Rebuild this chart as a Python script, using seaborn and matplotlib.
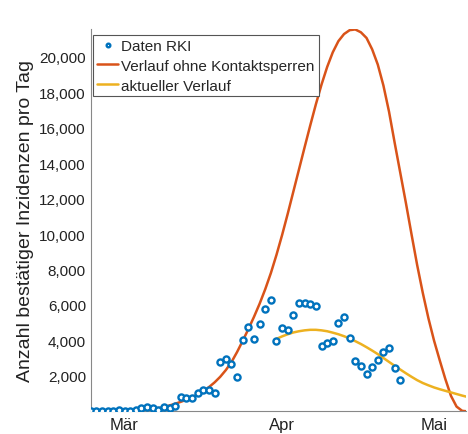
import numpy as np
import pandas as pd
import matplotlib
import matplotlib.pyplot as plt
import seaborn as sns
from matplotlib.ticker import FuncFormatter

matplotlib.use("Agg")

sns.set_style("white")
plt.rcParams["font.family"] = ["Liberation Sans", "DejaVu Sans"]

# Tagesindex (0 = erster Datenpunkt) und Beschriftung der Monate
monat_pos = [6, 34, 61]
monat_labels = ["Mär", "Apr", "Mai"]

# Daten RKI: bestätigte Neuinfektionen pro Tag
rki_werte = [10, 10, 10, 10, 10, 85, 10, 20, 60, 180,
             270, 180, 100, 270, 180, 290, 820, 740, 740, 1060,
             1190, 1180, 1050, 2790, 2960, 2700, 1950, 4050, 4770, 4110,
             4950, 5760, 6270, 3960, 4730, 4610, 5440, 6140, 6140, 6080,
             5930, 3680, 3830, 3990, 4970, 5310, 4130, 2830, 2550, 2080,
             2490, 2870, 3370, 3600, 2470, 1790]
rki_tage = list(range(len(rki_werte)))

# Verlauf ohne Kontaktsperren
ohne_tage = list(range(0, 68))
ohne_werte = [0, 0, 0, 0, 0, 0, 5, 10, 25, 50,
              85, 125, 180, 250, 335, 430, 540, 660, 800, 960,
              1150, 1370, 1635, 1950, 2330, 2780, 3350, 3980, 4640, 5330,
              6070, 6890, 7800, 8830, 9950, 11150, 12400, 13650, 14900, 16130,
              17320, 18430, 19420, 20250, 20880, 21280, 21500, 21540, 21380, 21060,
              20420, 19560, 18380, 16900, 15150, 13450, 11750, 9980, 8250, 6680,
              5250, 3990, 2890, 1830, 880, 270, 30, 0]

# aktueller Verlauf
akt_tage = list(range(33, 68))
akt_werte = [4090, 4230, 4350, 4450, 4520, 4570, 4600, 4600, 4570, 4520,
             4440, 4350, 4240, 4110, 3960, 3800, 3620, 3430, 3230, 3010,
             2790, 2570, 2360, 2150, 1950, 1760, 1600, 1470, 1350, 1250,
             1160, 1070, 980, 890, 810]

df_rki = pd.DataFrame({"tag": rki_tage, "wert": rki_werte})
df_ohne = pd.DataFrame({"tag": ohne_tage, "wert": ohne_werte})
df_akt = pd.DataFrame({"tag": akt_tage, "wert": akt_werte})

blau = "#0072BD"
orange = "#D95319"
gelb = "#EDB120"

fig = plt.figure(figsize=(4.68, 4.35), dpi=100)
ax = fig.add_axes([0.194, 0.052, 0.802, 0.878])

sns.lineplot(data=df_ohne, x="tag", y="wert", color=orange, linewidth=1.8,
             label="Verlauf ohne Kontaktsperren", ax=ax, zorder=2)
sns.lineplot(data=df_akt, x="tag", y="wert", color=gelb, linewidth=1.8,
             label="aktueller Verlauf", ax=ax, zorder=2)
ax.plot(df_rki["tag"], df_rki["wert"], linestyle="none", marker="o",
        markersize=4.4, markerfacecolor="white", markeredgecolor=blau,
        markeredgewidth=1.7, label="Daten RKI", zorder=3)

ax.set_xlim(0, 66.7)
ax.set_ylim(0, max(ohne_werte))
ax.set_xticks(monat_pos)
ax.set_xticklabels(monat_labels)
ax.set_yticks(range(2000, 20001, 2000))
ax.yaxis.set_major_formatter(FuncFormatter(lambda v, p: f"{int(v):,}"))
ax.tick_params(axis="both", direction="in", length=4, width=0.8,
               colors="#444444", labelcolor="#222222", labelsize=11)
ax.tick_params(axis="x", labelsize=12, pad=4)
ax.set_xlabel("")
ax.set_ylabel("Anzahl bestätiger Inzidenzen pro Tag", fontsize=14,
              color="#222222", labelpad=4)

for s in ["top", "right"]:
    ax.spines[s].set_visible(False)
for s in ["left", "bottom"]:
    ax.spines[s].set_color("#888888")
    ax.spines[s].set_linewidth(0.8)

handles, labels = ax.get_legend_handles_labels()
order = [labels.index("Daten RKI"), labels.index("Verlauf ohne Kontaktsperren"),
         labels.index("aktueller Verlauf")]
leg = ax.legend([handles[i] for i in order], [labels[i] for i in order],
                loc="upper left", bbox_to_anchor=(0.006, 0.985), borderaxespad=0,
                fontsize=11, frameon=True, fancybox=False, framealpha=1,
                edgecolor="#555555", handlelength=1.4, handletextpad=0.2,
                labelspacing=0.38, borderpad=0.25, markerscale=0.6)
leg.get_frame().set_linewidth(0.8)

fig.savefig("out.png", dpi=100)
